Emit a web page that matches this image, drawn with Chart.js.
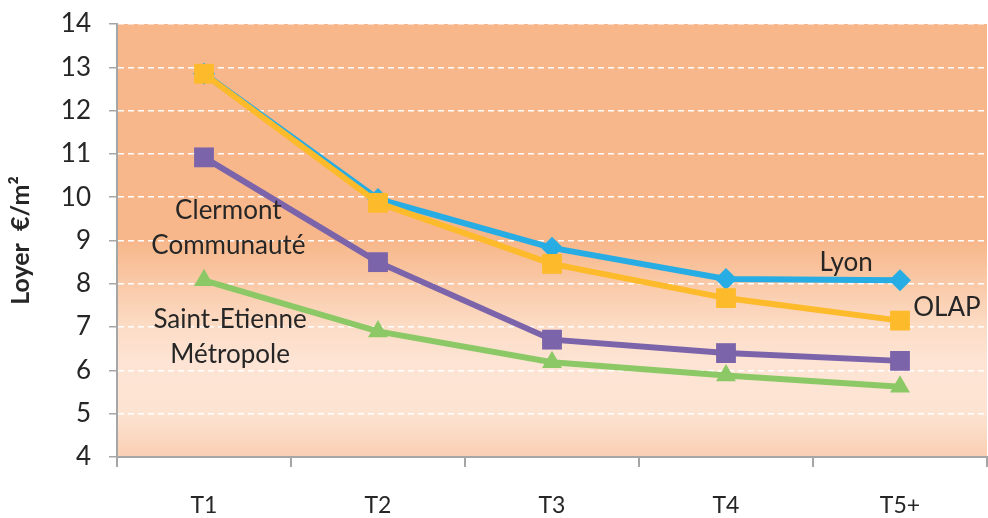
<!DOCTYPE html>
<html>
<head>
<meta charset="utf-8">
<script src="https://cdn.jsdelivr.net/npm/chart.js@4/dist/chart.umd.min.js"></script>
<style>
    html, body { margin: 0; padding: 0; background: #fff; overflow: hidden; }
    #wrap { width: 988px; height: 518px; }
    canvas { display: block; }
</style>
</head>
<body>
<div id="wrap"><canvas id="chart" width="988" height="518"></canvas></div>
<script>
const categories = ["T1", "T2", "T3", "T4", "T5+"];
const lyon = [12.85, 9.96, 8.83, 8.11, 8.08];
const olap = [12.85, 9.87, 8.46, 7.67, 7.15];
const clermont = [10.92, 8.5, 6.71, 6.4, 6.22];
const saintEtienne = [8.08, 6.9, 6.19, 5.88, 5.62];
const yTicks = [4, 5, 6, 7, 8, 9, 10, 11, 12, 13, 14];

// text labels placed next to the lines: [lines, x index, y value]
const notes = [
    [["Clermont", "Communauté"], 0.14, 9.29],
    [["Saint-Etienne", "Métropole"], 0.15, 6.76],
    [["Lyon"], 3.69, 8.48],
    [["OLAP"], 4.27, 7.46],
];

const FONT = "Lato, 'Open Sans', sans-serif";

const backdrop = {
    id: "backdrop",
    beforeDraw(chart) {
        const { ctx, chartArea: a } = chart;
        const g = ctx.createLinearGradient(0, a.top, 0, a.bottom);
        g.addColorStop(0, "#f7b78a");
        g.addColorStop(0.5, "#f7b78a");
        g.addColorStop(0.7, "#fcdcc6");
        g.addColorStop(0.78, "#fde4d4");
        g.addColorStop(0.9, "#fde3d2");
        g.addColorStop(1, "#f9cfb2");
        ctx.save();
        ctx.fillStyle = g;
        ctx.fillRect(a.left, a.top, a.right - a.left, a.bottom - a.top);
        ctx.restore();
    },
};

const annotations = {
    id: "annotations",
    afterDatasetsDraw(chart) {
        const { ctx, scales } = chart;
        ctx.save();
        ctx.font = "26px " + FONT;
        ctx.fillStyle = "#262626";
        ctx.textAlign = "center";
        ctx.textBaseline = "middle";
        notes.forEach(([lines, xi, yv]) => {
            const x = scales.x.getPixelForValue(xi);
            const y = scales.y.getPixelForValue(yv);
            lines.forEach((t, i) => ctx.fillText(t, x, y + (i - (lines.length - 1) / 2) * 35));
        });
        ctx.restore();
    },
};

function series(data, color, style, radius) {
    return {
        data,
        borderColor: color,
        backgroundColor: color,
        borderWidth: 6,
        pointStyle: style,
        pointRadius: radius,
        pointBorderWidth: 0,
        tension: 0,
    };
}

// first dataset is drawn on top
new Chart(document.getElementById("chart").getContext("2d"), {
    type: "line",
    data: {
        labels: categories,
        datasets: [
            series(olap, "#fdba2b", "rect", 14),
            series(lyon, "#27ade3", "rectRot", 11),
            series(clermont, "#7b64aa", "rect", 14),
            series(saintEtienne, "#8cc966", "triangle", 11.5),
        ],
    },
    options: {
        responsive: false,
        animation: false,
        layout: { autoPadding: false, padding: { top: 24, right: 1, left: 0, bottom: 0 } },
        plugins: { legend: { display: false }, tooltip: { enabled: false } },
        scales: {
            x: {
                offset: true,
                afterFit(scale) {
                    scale.height = 61;
                    scale.paddingLeft = 0;
                    scale.paddingRight = 0;
                },
                grid: {
                    display: true,
                    drawOnChartArea: false,
                    offset: true,
                    color: "#a6a6a6",
                    tickLength: 10,
                    lineWidth: 2,
                },
                border: { color: "#a6a6a6", width: 2 },
                ticks: { color: "#262626", font: { family: FONT, size: 23 }, padding: 25 },
            },
            y: {
                min: 4,
                max: 14,
                afterBuildTicks(axis) {
                    axis.ticks = yTicks.map((v) => ({ value: v }));
                },
                afterFit(scale) {
                    scale.width = 117;
                    scale.paddingTop = 0;
                    scale.paddingBottom = 0;
                },
                grid: {
                    color: "#ffffff",
                    lineWidth: 1.5,
                    tickColor: "#a6a6a6",
                    tickLength: 8,
                    tickBorderDash: [],
                },
                border: { color: "#a6a6a6", width: 2, dash: [6, 4] },
                ticks: { color: "#262626", font: { family: FONT, size: 26 }, padding: 18 },
                title: {
                    display: true,
                    text: "Loyer  €/m²",
                    color: "#262626",
                    font: { family: FONT, size: 25, weight: "bold" },
                    padding: { top: 6, bottom: 10 },
                },
            },
        },
    },
    plugins: [backdrop, annotations],
});
</script>
</body>
</html>
